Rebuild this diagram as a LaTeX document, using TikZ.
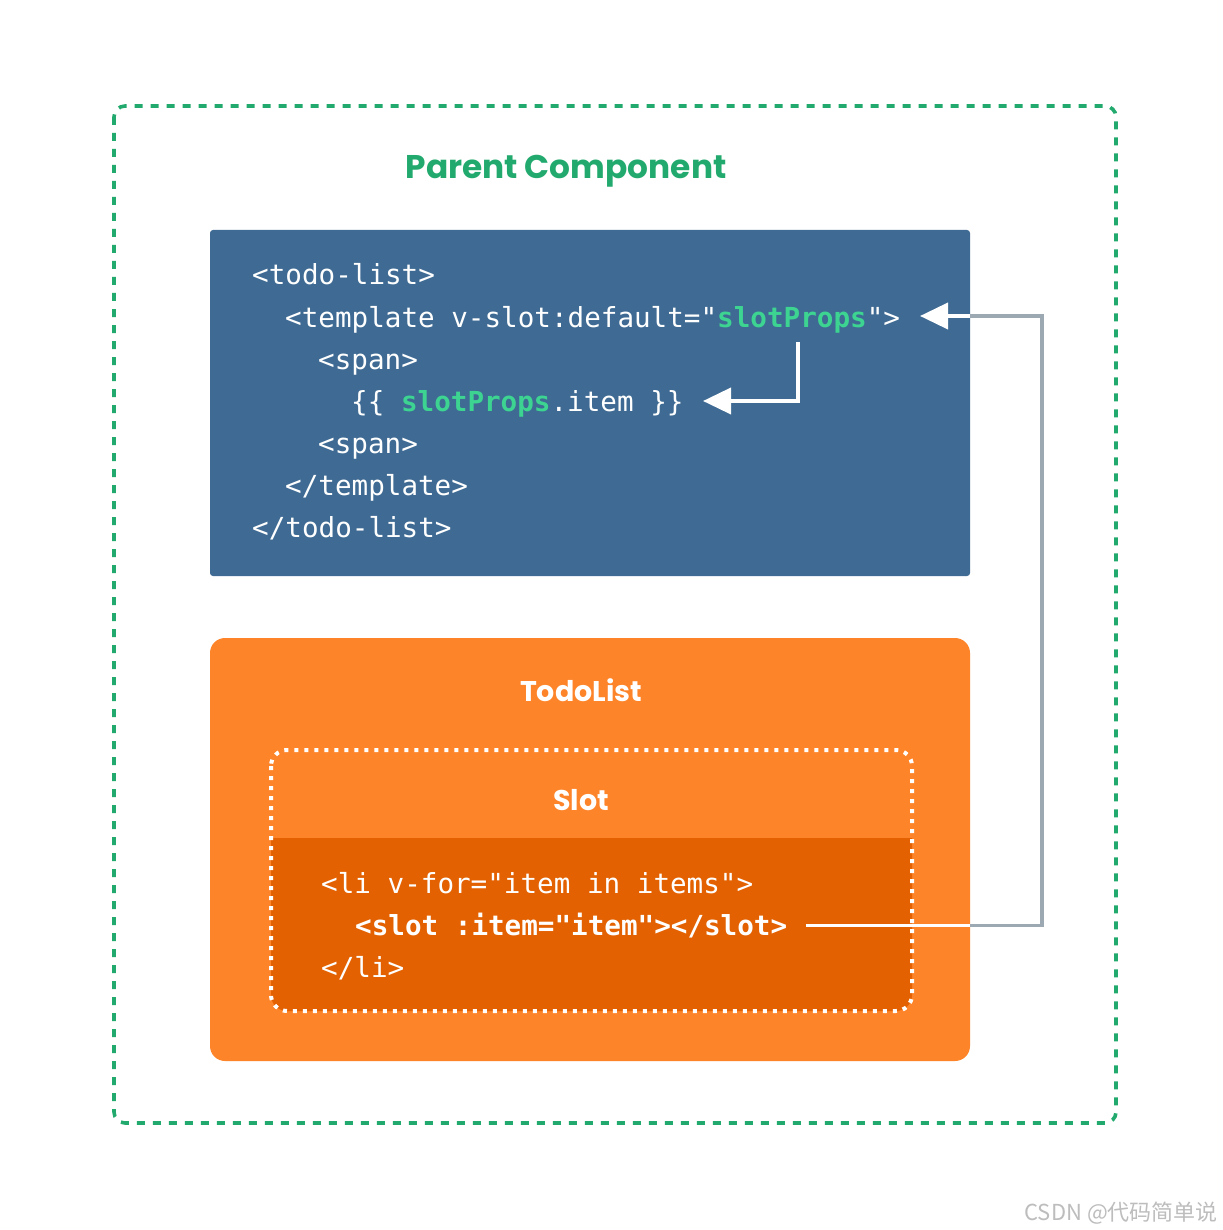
\documentclass[tikz,border=0pt]{standalone}
\usepackage{fontspec}
\setmonofont{DejaVu Sans Mono}
\newfontfamily\titlefont{Poppins}
\newfontfamily\cjkfont{Noto Sans CJK SC}
\usetikzlibrary{arrows.meta}
\definecolor{pgreen}{HTML}{22AA6E}
\definecolor{propgreen}{HTML}{3DD492}
\definecolor{codeblue}{HTML}{3E6A93}
\definecolor{orangebg}{HTML}{FE8429}
\definecolor{orangedark}{HTML}{E36100}
\definecolor{linegray}{HTML}{9CA9B3}
\definecolor{wmgray}{HTML}{BDBDBD}
\tikzset{
  codeline/.style={font=\ttfamily\fontsize{27.6}{30}\selectfont, text=white, anchor=base west, inner sep=0pt},
  boldline/.style={codeline, font=\ttfamily\bfseries\fontsize{27.6}{30}\selectfont},
  titletext/.style={font=\titlefont\bfseries\fontsize{32.8}{36}\selectfont, inner sep=0pt, anchor=center},
  subtitle/.style={font=\titlefont\bfseries\fontsize{28.5}{32}\selectfont, text=white, inner sep=0pt, anchor=center},
  whiteconn/.style={draw=white, line width=3.8pt},
  grayconn/.style={draw=linegray, line width=3.8pt},
  bigtip/.style={-{Triangle[length=28pt,width=26pt]}},
}
\begin{document}
\begin{tikzpicture}[x=1pt,y=-1pt]
\useasboundingbox (0,0) rectangle (1222,1230);
\fill[white] (0,0) rectangle (1222,1230);

% outer parent component frame
\draw[pgreen, line width=3.6pt, dash pattern=on 8pt off 8pt, rounded corners=11pt] (114,106) rectangle (1116,1123);
\node[titletext, text=pgreen] (ptitle) at (566,171) {Parent Component};

% blue code box
\fill[codeblue, rounded corners=3pt] (210,230) rectangle (970,576);
\node[codeline] (l1) at (252,285) {<todo-list>};
\node[codeline] (l2) at (285,327) {<template v-slot:default="\textcolor{propgreen}{\bfseries slotProps}">};
\node[codeline] (l3) at (318,369) {<span>};
\node[codeline] (l4) at (351,411) {\{\{ \textcolor{propgreen}{\bfseries slotProps}.item \}\}};
\node[codeline] (l5) at (318,453) {<span>};
\node[codeline] (l6) at (285,495) {</template>};
\node[codeline] (l7) at (252,537) {</todo-list>};

% orange TodoList box
\fill[orangebg, rounded corners=15pt] (210,638) rectangle (970,1061);
\node[subtitle] (tl) at (581,690) {TodoList};

% slot box
\begin{scope}
  \clip[rounded corners=16pt] (271,750) rectangle (912,1011);
  \fill[orangedark] (260,838) rectangle (920,1020);
\end{scope}
\draw[white, line width=4pt, dash pattern=on 4pt off 6pt, rounded corners=16pt] (271,750) rectangle (912,1011);
\node[subtitle] (sl) at (581,800) {Slot};
\node[codeline] (s1) at (321,893) {<li v-for="item in items">};
\node[boldline] (s2) at (355,935) {<slot :item="item"></slot>};
\node[codeline] (s3) at (321,977) {</li>};

% connectors
\coordinate (slotout) at (806,925.5);
\coordinate (edgeB) at (970,925.5);
\coordinate (cornerB) at (1042,925.5);
\coordinate (cornerT) at (1042,316);
\coordinate (edgeT) at (970,316);
\coordinate (tipA) at (920,316);
\coordinate (propsdown) at (798,342);
\coordinate (bend) at (798,401);
\coordinate (tipB) at (703,401);

\draw[whiteconn] (slotout) -- (edgeB);
\draw[grayconn] (edgeB) -- (cornerB) -- (cornerT) -- (edgeT);
\draw[whiteconn, bigtip] (edgeT) -- (tipA);
\draw[whiteconn, bigtip] (propsdown) -- (bend) -- (tipB);

% watermark
\node[font=\cjkfont\fontsize{22}{24}\selectfont, text=wmgray, anchor=base east, inner sep=0pt] (wm) at (1218,1220) {CSDN @代码简单说};
\end{tikzpicture}
\end{document}
